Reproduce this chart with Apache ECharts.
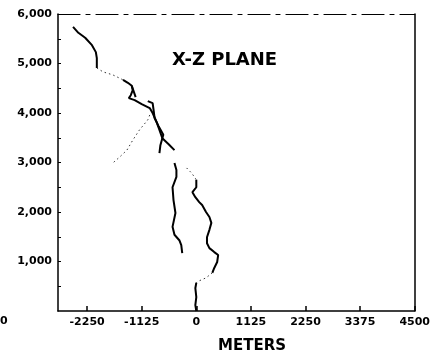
<!DOCTYPE html>
<html>
<head>
<meta charset="utf-8">
<script src="https://cdn.jsdelivr.net/npm/echarts@6/dist/echarts.min.js"></script>
<style>html,body{margin:0;padding:0;background:#fff}#c{width:433px;height:360px}</style>
</head>
<body>
<div id="c"></div>
<script>
// ---- data (metres) ----
const xTicks = [-2250, -1125, 0, 1125, 2250, 3375, 4500];
const yTicks = [1000, 2000, 3000, 4000, 5000, 6000];
const yMinorTicks = [500, 1500, 2500, 3500, 4500, 5500];

const mainUpper = [[-2540,5740],[-2430,5620],[-2290,5520],[-2150,5370],[-2070,5230],[-2050,5110],[-2050,4910]];
const mainGap = [[-2050,4910],[-1920,4830],[-1720,4770],[-1510,4670]];
const mainLower = [[-1510,4670],[-1410,4610],[-1330,4550],[-1310,4460],[-1350,4360],[-1390,4300],[-1270,4260],[-1125,4180],[-960,4100],[-900,4000],[-820,3820],[-760,3660],[-700,3490],[-570,3370],[-450,3250]];
const spur = [[-1330,4550],[-1250,4320]];
const secondStrand = [[-1000,4240],[-900,4200],[-880,4060],[-860,3900],[-780,3740],[-680,3560],[-700,3490],[-740,3350],[-760,3190]];
const leftDotted = [[-960,3960],[-1000,3860],[-1170,3660],[-1310,3450],[-1430,3250],[-1580,3110],[-1720,2990]];
const leftLower = [[-450,2990],[-410,2850],[-410,2710],[-490,2500],[-470,2240],[-430,1980],[-490,1700],[-450,1540],[-350,1430],[-310,1330],[-290,1170]];
const rightDotted = [[-200,2890],[-100,2790],[-40,2710],[0,2650]];
const rightUpper = [[0,2650],[0,2500],[-80,2400],[-20,2300],[60,2200],[120,2140],[200,2000],[270,1900],[310,1780],[270,1640],[220,1490],[220,1370],[270,1270],[370,1190],[450,1130],[430,990],[370,870],[330,770]];
const rightGap = [[330,770],[200,670],[60,610],[0,570]];
const rightBase = [[0,570],[-20,460],[0,280],[-20,120],[0,0]];

const solid = {color:'#000', width:2};
const dotted = {color:'#333', width:1, type:[1.5,3]};
function s(data, ls){ return {type:'line', data:data, showSymbol:false, symbol:'none', lineStyle:ls, silent:true, xAxisIndex:0, yAxisIndex:0, animation:false}; }

const font = {fontFamily:'DejaVu Sans', fontWeight:'bold', color:'#000'};
const chart = echarts.init(document.getElementById('c'), null, {renderer:'canvas'});
chart.setOption({
  animation:false,
  grid:{left:58, right:16, top:14, bottom:49, show:false},
  xAxis:[{
    type:'value', min:-2850, max:4500, position:'bottom',
    splitLine:{show:false},
    axisLine:{onZero:false, lineStyle:{color:'#000', width:1.5}},
    axisTick:{inside:true, length:5, lineStyle:{color:'#000', width:1.5}, customValues:xTicks},
    axisLabel:Object.assign({fontSize:11, margin:6, customValues:xTicks, formatter:v=>String(v)}, font)
  },{
    type:'value', min:-2850, max:4500, position:'top',
    splitLine:{show:false},
    axisLine:{onZero:false, lineStyle:{color:'#000', width:1.2, type:[22,6,4,6]}},
    axisTick:{show:false}, axisLabel:{show:false}
  }],
  yAxis:[{
    type:'value', min:0, max:6000, position:'left',
    splitLine:{show:false},
    axisLine:{onZero:false, lineStyle:{color:'#000', width:1.5}},
    axisTick:{inside:true, length:3, lineStyle:{color:'#000', width:1}, customValues:yTicks.concat(yMinorTicks)},
    axisLabel:Object.assign({fontSize:11, margin:6, customValues:yTicks, formatter:v=>v.toLocaleString('en-US')}, font)
  },{
    type:'value', min:0, max:6000, position:'right',
    splitLine:{show:false},
    axisLine:{onZero:false, lineStyle:{color:'#000', width:1.5}},
    axisTick:{show:false}, axisLabel:{show:false}
  }],
  series:[
    s(mainUpper, solid), s(mainGap, dotted), s(mainLower, solid), s(spur, solid),
    s(secondStrand, solid), s(leftDotted, dotted), s(leftLower, solid),
    s(rightDotted, dotted), s(rightUpper, solid), s(rightGap, dotted), s(rightBase, solid)
  ],
  graphic:[
    {type:'text', left:172, top:51, style:Object.assign({text:'X-Z PLANE', fontSize:18, fill:'#000'}, {fontFamily:'DejaVu Sans', fontWeight:'bold'})},
    {type:'text', left:218, top:339, style:{text:'METERS', fontSize:15, fill:'#000', fontFamily:'DejaVu Sans', fontWeight:'bold'}},
    {type:'text', left:0, top:316, style:{text:'0', fontSize:11, fill:'#000', fontFamily:'DejaVu Sans', fontWeight:'bold'}}
  ]
});
</script>
</body>
</html>
